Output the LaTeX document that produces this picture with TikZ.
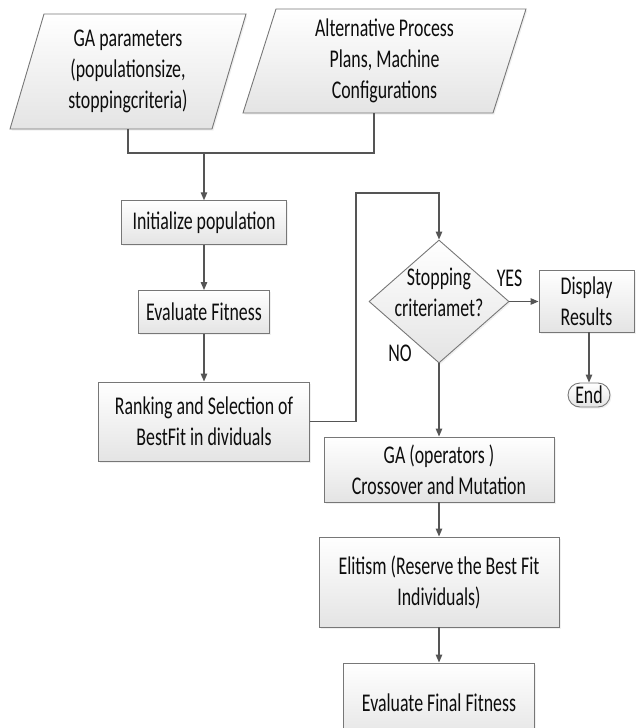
\documentclass[tikz,border=0pt]{standalone}
\usepackage{fontspec}
\setmainfont{Carlito}[FakeStretch=0.7]
\usetikzlibrary{shapes.geometric,shapes.misc,arrows.meta,shadows}
\definecolor{linecol}{HTML}{555555}
\definecolor{boxdraw}{HTML}{777777}
\definecolor{boxfill}{HTML}{E4E4E4}
\definecolor{txtcol}{HTML}{0D0D0D}
\tikzset{
  txt/.style={font=\fontsize{25.5pt}{31pt}\selectfont, text=txtcol, align=center, inner sep=0pt},
  shade/.style={top color=white, bottom color=boxfill, draw=boxdraw, line width=0.9pt,
     drop shadow={opacity=0.12, shadow xshift=1.5pt, shadow yshift=-1.5pt}},
  box/.style={shade, rectangle, txt},
  conn/.style={draw=linecol, line width=1.2pt},
  arr/.style={conn, -{Triangle[length=8pt,width=6.5pt]}},
}
\begin{document}
\begin{tikzpicture}[x=1pt,y=-1pt]
\useasboundingbox (0,0) rectangle (635,728);
% input parallelograms
\path[shade] (10,129) -- (212,129) -- (246,14) -- (44,14) -- cycle;
\node[txt] (p1) at (128,71.5) {GA parameters\\(populationsize,\\stoppingcriteria)};
\path[shade] (243,113) -- (493,113) -- (526,9) -- (276,9) -- cycle;
\node[txt] (p2) at (384.5,61) {Alternative Process\\Plans, Machine\\Configurations};
\coordinate (p1b) at (128,129);
\coordinate (p2b) at (374,113);
\coordinate (j) at (204,153);
% boxes
\node[box, minimum width=165pt, minimum height=43.5pt] (init) at (204,222.5) {Initialize population};
\node[box, minimum width=131pt, minimum height=43pt] (eval) at (204,312) {Evaluate Fitness};
\node[box, minimum width=211pt, minimum height=79pt] (rank) at (204,421.5) {Ranking and Selection of\\BestFit in dividuals};
\node[shade, diamond, minimum width=140pt, minimum height=123pt, inner sep=0pt] (dec) at (439,301.5) {};
\node[txt] (dect) at (439,292) {Stopping\\criteriamet?};
\node[txt] (yes) at (509.5,278) {YES};
\node[txt] (no) at (400,353) {NO};
\node[box, minimum width=95pt, minimum height=62pt] (disp) at (586.5,301) {Display\\Results};
\node[shade, rounded rectangle, txt, minimum width=42pt, minimum height=24pt] (end) at (589,395) {End};
\node[box, minimum width=230pt, minimum height=65pt] (ga) at (439,469.5) {GA (operators )\\Crossover and Mutation};
\node[box, minimum width=240pt, minimum height=90pt] (elit) at (439,582) {Elitism (Reserve the Best Fit\\Individuals)};
\node[box, minimum width=191pt, minimum height=80pt] (final) at (439,703) {Evaluate Final Fitness};
\coordinate (lp) at (356,193);
% connectors
\draw[conn] (p1b) |- (j) -| (p2b);
\draw[arr] (j) -- (init.north);
\draw[arr] (init) -- (eval);
\draw[arr] (eval) -- (rank);
\draw[arr] (rank.east) -| (lp) -| (dec.north);
\draw[arr] (dec.east) -- (disp.west |- dec.east);
\draw[arr] (disp.south -| end.north) -- (end.north);
\draw[arr] (dec.south) -- (ga.north);
\draw[arr] (ga) -- (elit);
\draw[arr] (elit) -- (final);
\end{tikzpicture}
\end{document}
